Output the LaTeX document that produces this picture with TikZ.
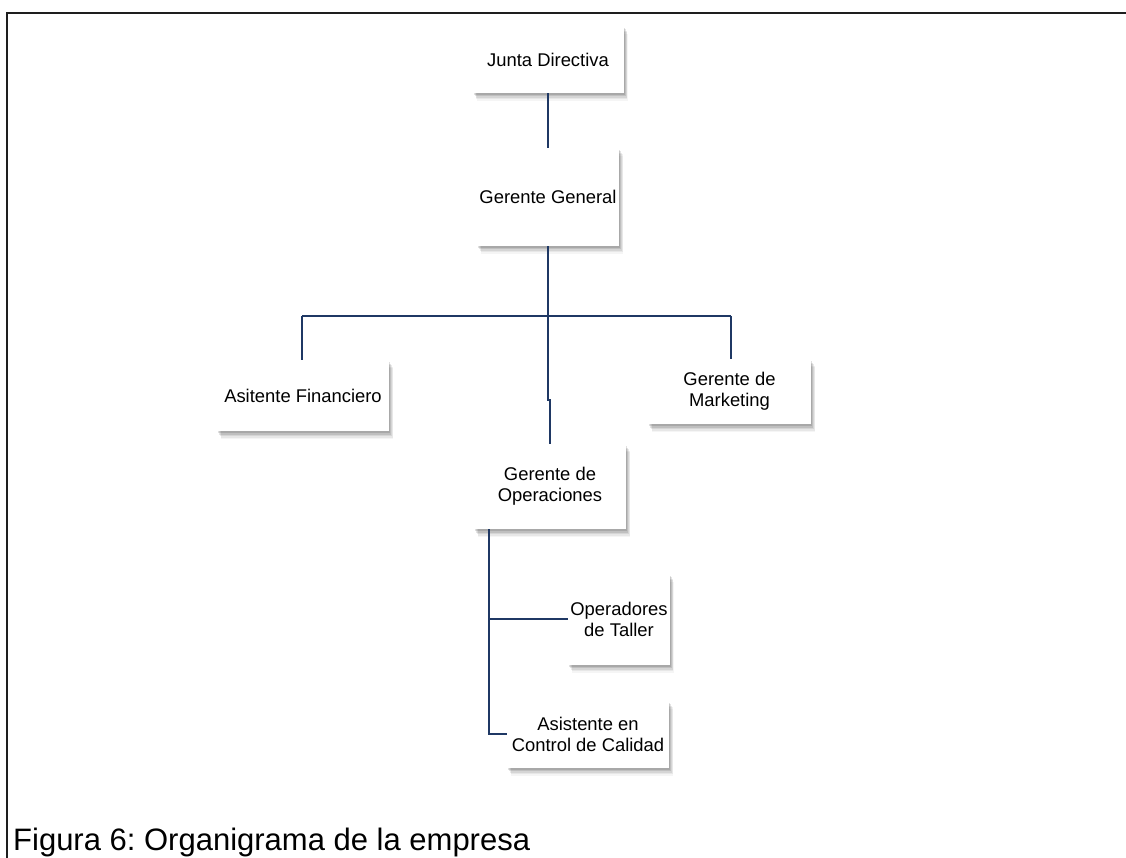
\documentclass[tikz,border=0pt]{standalone}
\usepackage{fontspec}
\setmainfont{Liberation Sans}
\frenchspacing
\usetikzlibrary{shadows}
\definecolor{linkblue}{RGB}{31,56,100}
\definecolor{framegray}{RGB}{30,30,30}
\tikzset{
  orgbox/.style={rectangle, fill=white, inner sep=2pt, align=center,
    font=\fontsize{18.4}{21}\selectfont,
    drop shadow={shadow xshift=4pt, shadow yshift=-8pt, opacity=0.04, fill=black},
    drop shadow={shadow xshift=3.5pt, shadow yshift=-6.5pt, opacity=0.06, fill=black},
    drop shadow={shadow xshift=3pt, shadow yshift=-5pt, opacity=0.08, fill=black},
    drop shadow={shadow xshift=2pt, shadow yshift=-3.5pt, opacity=0.10, fill=black},
    drop shadow={shadow xshift=1pt, shadow yshift=-2pt, opacity=0.12, fill=black}},
  link/.style={draw=linkblue, line width=2.1pt},
  frameline/.style={draw=framegray, line width=1.5pt}
}
\begin{document}
\begin{tikzpicture}[x=1pt,y=-1pt]
\useasboundingbox (0,0) rectangle (1126,858);
% frame
\coordinate (ftr) at (1126,13);
\coordinate (ftl) at (7,13);
\coordinate (fbl) at (7,858);
\draw[frameline] (ftr) -- (ftl) -- (fbl);
% boxes
\node[orgbox, minimum width=151pt, minimum height=67pt] (jd) at (548,59.5) {Junta Directiva};
\node[orgbox, minimum width=142pt, minimum height=98pt] (gg) at (548,197) {Gerente General};
\node[orgbox, minimum width=172pt, minimum height=71pt] (af) at (303,395.5) {Asitente Financiero};
\node[orgbox, minimum width=163pt, minimum height=65pt] (gm) at (729.5,391.5) {Gerente de\\Marketing};
\node[orgbox, minimum width=152pt, minimum height=85pt] (go) at (550,486.5) {Gerente de\\Operaciones};
\node[orgbox, minimum width=100pt, minimum height=91pt] (ot) at (619,619) {Operadores\\de Taller};
\node[orgbox, minimum width=162pt, minimum height=67pt] (ac) at (588,734) {Asistente en\\Control de Calidad};
% connectors
\coordinate (bus) at (548,316);
\coordinate (busl) at (302,316);
\coordinate (busr) at (731,316);
\coordinate (jog) at (548,400);
\coordinate (trunk) at (489,529);
\coordinate (trunkend) at (489,734);
\draw[link] (jd.south) -- (gg.north);
\draw[link] (gg.south) -- (bus);
\draw[link] (busl) -- (busr);
\draw[link] (busl) -- (busl |- af.north);
\draw[link] (busr) -- (busr |- gm.north);
\draw[link] (bus) -- (jog) -- (jog -| go.north) -- (go.north);
\draw[link] (trunk) -- (trunkend) -- (trunkend -| ac.west);
\draw[link] (trunk |- ot.west) -- (ot.west);
% caption
\node[anchor=base west, inner sep=0pt, font=\fontsize{31}{36}\selectfont] (cap) at (13,850) {Figura 6: Organigrama de la empresa};
\end{tikzpicture}
\end{document}
